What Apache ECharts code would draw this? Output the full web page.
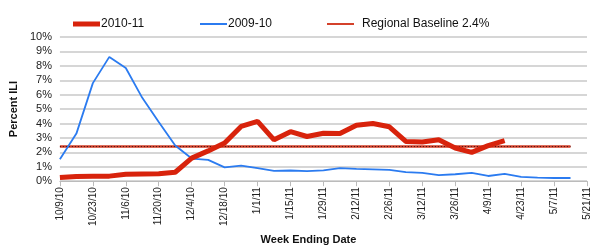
<!DOCTYPE html>
<html>
<head>
<meta charset="utf-8">
<script src="https://cdn.jsdelivr.net/npm/echarts@6/dist/echarts.min.js"></script>
<style>
  html, body { margin: 0; padding: 0; background: #fff; }
  #chart { width: 600px; height: 250px; }
</style>
</head>
<body>
<div id="chart"></div>
<script>
// week ending dates
var weeks = [
  "10/9/10", "10/16/10", "10/23/10", "10/30/10", "11/6/10", "11/13/10", "11/20/10", "11/27/10",
  "12/4/10", "12/11/10", "12/18/10", "12/25/10", "1/1/11", "1/8/11", "1/15/11", "1/22/11",
  "1/29/11", "2/5/11", "2/12/11", "2/19/11", "2/26/11", "3/5/11", "3/12/11", "3/19/11",
  "3/26/11", "4/2/11", "4/9/11", "4/16/11", "4/23/11", "4/30/11", "5/7/11", "5/14/11", "5/21/11"
];
// percent ILI, 2010-11 season
var season1011 = [
  0.25, 0.33, 0.35, 0.35, 0.48, 0.5, 0.52, 0.62,
  1.6, 2.1, 2.65, 3.8, 4.15, 2.87, 3.43, 3.1,
  3.32, 3.3, 3.88, 4.0, 3.77, 2.76, 2.72, 2.87,
  2.3, 2.0, 2.47, 2.82
];
// percent ILI, 2009-10 season
var season0910 = [
  1.52, 3.3, 6.8, 8.62, 7.85, 5.78, 4.1, 2.47,
  1.57, 1.48, 0.96, 1.08, 0.9, 0.72, 0.74, 0.7,
  0.75, 0.9, 0.85, 0.82, 0.78, 0.63, 0.58, 0.42,
  0.48, 0.58, 0.36, 0.5, 0.3, 0.24, 0.22, 0.22
];
var baselineValue = 2.4;
var baseline = season0910.map(function () { return baselineValue; });

var yTicks = [0, 1, 2, 3, 4, 5, 6, 7, 8, 9, 10];

var red = "#d8230c";
var blue = "#2b7bf0";
var baseRed = "#d4412b";

// one legend per entry so each gets its own slot
function legendAt(left, name, icon, color, textPad) {
  return {
    top: 13,
    left: left,
    itemWidth: 27,
    itemHeight: 6,
    textStyle: { fontSize: 12, color: "#111", padding: [0, 0, 0, textPad] },
    data: [{ name: name, icon: icon, itemStyle: { color: color } }]
  };
}

var chart = echarts.init(document.getElementById("chart"));
var option = {
  animation: false,
  textStyle: { fontFamily: "Liberation Sans, Arial, sans-serif" },
  legend: [
    legendAt(68, "2010-11", "path://M0,0H27V5H0Z", red, -4),
    legendAt(195, "2009-10", "path://M0,0H27V2H0Z", blue, -4),
    legendAt(322, "Regional Baseline 2.4%", "path://M0,0H27V2H0Z", baseRed, 3)
  ],
  grid: { left: 53, right: 13, top: 37, bottom: 64 },
  xAxis: {
    type: "category",
    data: weeks,
    boundaryGap: false,
    name: "Week Ending Date",
    nameLocation: "middle",
    nameGap: 43,
    nameTextStyle: { fontSize: 11, fontWeight: "bold", color: "#111", padding: [0, 30, 0, 0] },
    axisLine: { lineStyle: { color: "#bbb", width: 1 } },
    axisTick: { interval: 1, length: 5, lineStyle: { color: "#bbb" } },
    axisLabel: { interval: 1, rotate: 90, fontSize: 10, color: "#222", margin: 6 },
    splitLine: { show: false }
  },
  yAxis: {
    type: "value",
    min: yTicks[0],
    max: yTicks[yTicks.length - 1],
    interval: 1,
    name: "Percent ILI",
    nameLocation: "middle",
    nameGap: 35,
    nameTextStyle: { fontSize: 11, fontWeight: "bold", color: "#111" },
    axisLine: { show: false },
    axisTick: { show: false },
    axisLabel: { fontSize: 11, color: "#222", margin: 8, formatter: "{value}%" },
    splitLine: { lineStyle: { color: "#c8c8c8", width: 1.5 } }
  },
  series: [
    {
      name: "Regional Baseline 2.4%",
      type: "line",
      data: baseline,
      symbol: "none",
      z: 2,
      lineStyle: { color: baseRed, width: 2.5 },
      itemStyle: { color: baseRed }
    },
    {
      name: "baseline-dots",
      type: "line",
      data: baseline,
      symbol: "none",
      z: 3,
      silent: true,
      lineStyle: { color: "#3a1010", width: 1, type: [1, 2] }
    },
    {
      name: "2009-10",
      type: "line",
      data: season0910,
      symbol: "none",
      z: 4,
      lineStyle: { color: blue, width: 1.8 },
      itemStyle: { color: blue }
    },
    {
      name: "2010-11",
      type: "line",
      data: season1011,
      symbol: "none",
      z: 5,
      lineStyle: { color: red, width: 5 },
      itemStyle: { color: red }
    }
  ]
};
chart.setOption(option);
</script>
</body>
</html>
